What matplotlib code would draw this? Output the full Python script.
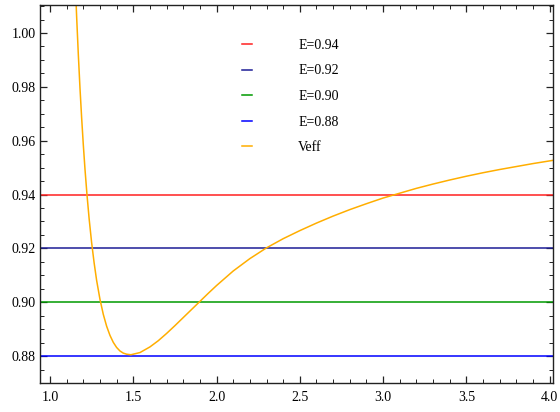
import matplotlib
matplotlib.use("Agg")
import matplotlib.pyplot as plt
from matplotlib.ticker import MultipleLocator

# Energy levels
energies = [0.94, 0.92, 0.90, 0.88]
energy_labels = ["E=0.94", "E=0.92", "E=0.90", "E=0.88"]
energy_colors = ["#FF2020", "#1C1C96", "#009A00", "#0000FF"]

# Effective potential curve
veff_x = [1.140, 1.150, 1.160, 1.170, 1.180, 1.190, 1.200, 1.210, 1.222,
          1.235, 1.250, 1.265, 1.280, 1.300, 1.320, 1.340, 1.360, 1.380,
          1.400, 1.420, 1.440, 1.460, 1.486, 1.540, 1.600, 1.650, 1.700,
          1.750, 1.800, 1.850, 1.900, 1.950, 2.000, 2.100, 2.200, 2.300,
          2.400, 2.500, 2.600, 2.700, 2.800, 2.900, 3.000, 3.100, 3.200,
          3.300, 3.400, 3.500, 3.600, 3.700, 3.800, 3.900, 4.000, 4.020]
veff_y = [1.0389, 1.0215, 1.0060, 0.9921, 0.9796, 0.9685, 0.9585, 0.9495, 0.9400,
          0.9310, 0.9221, 0.9146, 0.9081, 0.9011, 0.8955, 0.8911, 0.8877, 0.8851,
          0.8832, 0.8819, 0.8811, 0.8807, 0.8805, 0.8813, 0.8834, 0.8857, 0.8884,
          0.8913, 0.8943, 0.8973, 0.9003, 0.9033, 0.9062, 0.9116, 0.9162, 0.9202,
          0.9236, 0.9266, 0.9294, 0.9320, 0.9344, 0.9366, 0.9387, 0.9405, 0.9423,
          0.9439, 0.9454, 0.9468, 0.9481, 0.9493, 0.9504, 0.9515, 0.9525, 0.9527]
veff_color = "#FFAE00"

plt.rcParams['font.family'] = ['Liberation Serif', 'DejaVu Serif']

fig = plt.figure(figsize=(5.6, 4.12), dpi=100)
ax = fig.add_axes([40/560, 1-383/412, 513/560, 378/412])

for e, lab, c in zip(energies, energy_labels, energy_colors):
    ax.axhline(e, color=c, lw=1.1, label=lab)
ax.plot(veff_x, veff_y, color=veff_color, lw=1.1, label="Veff")

ax.set_xlim(0.94, 4.02)
ax.set_ylim(0.87, 1.0104)

ax.xaxis.set_major_locator(MultipleLocator(0.5))
ax.xaxis.set_minor_locator(MultipleLocator(0.1))
ax.yaxis.set_major_locator(MultipleLocator(0.02))
ax.yaxis.set_minor_locator(MultipleLocator(0.005))
ax.xaxis.set_major_formatter(plt.FuncFormatter(lambda v, p: f"{v:.1f}"))
ax.yaxis.set_major_formatter(plt.FuncFormatter(lambda v, p: f"{v:.2f}"))

for s in ax.spines.values():
    s.set_color("#222222")
    s.set_linewidth(1.0)
ax.tick_params(which='both', direction='in', top=True, right=True,
               color="#222222", labelsize=10)
ax.tick_params(which='major', length=5, width=0.9)
ax.tick_params(which='minor', length=3, width=0.7)
ax.tick_params(axis='x', which='major', pad=6)
ax.tick_params(axis='y', which='major', pad=3)

leg = ax.legend(loc='upper left', bbox_to_anchor=(242/560, 1-39/412),
                bbox_transform=fig.transFigure, frameon=False, fontsize=10,
                handlelength=0.75, handletextpad=3.3, labelspacing=0.9,
                borderpad=0, borderaxespad=0)

fig.savefig("out.png", dpi=100)
